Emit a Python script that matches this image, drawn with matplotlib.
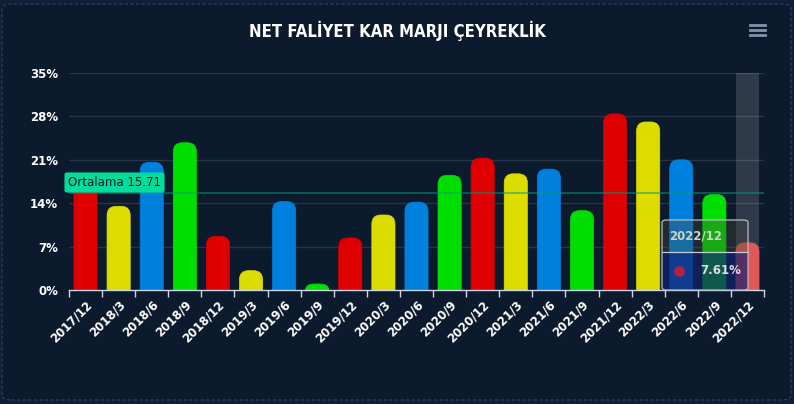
import matplotlib
matplotlib.use("Agg")
import matplotlib.pyplot as plt
from matplotlib.path import Path
from matplotlib.patches import PathPatch, FancyBboxPatch, Rectangle
from matplotlib.lines import Line2D

categories = ["2017/12", "2018/3", "2018/6", "2018/9", "2018/12", "2019/3", "2019/6",
              "2019/9", "2019/12", "2020/3", "2020/6", "2020/9", "2020/12", "2021/3",
              "2021/6", "2021/9", "2021/12", "2022/3", "2022/6", "2022/9", "2022/12"]
values = [17.6, 13.5, 20.6, 23.75, 8.67, 3.12, 14.27, 0.97, 8.4, 12.1, 14.17, 18.5,
          21.27, 18.74, 19.5, 12.8, 28.4, 27.1, 21.0, 15.4, 7.61]
average = 15.71
quarter_colors = {"12": "#de0000", "3": "#dcdc00", "6": "#0080dd", "9": "#00dd00"}
yticks = [0, 7, 14, 21, 28, 35]
hover_index = 20

W, H = 794, 404
BG = "#0c1a2d"
fig = plt.figure(figsize=(W / 100, H / 100), dpi=100, facecolor="#0f1f38")

# outer dashed rounded frame
frame = FancyBboxPatch((2 / W, 4 / H), (W - 5) / W, (H - 8) / H,
                       boxstyle="round,pad=0,rounding_size=0.012",
                       transform=fig.transFigure, facecolor=BG,
                       edgecolor="#34455f", linewidth=0.8, linestyle=(0, (3, 2)),
                       zorder=-10)
fig.patches.append(frame)

ax_l, ax_r, ax_b, ax_t = 69, 764, 290, 73
ax = fig.add_axes([ax_l / W, 1 - ax_b / H, (ax_r - ax_l) / W, (ax_b - ax_t) / H])
ax.set_facecolor("none")
n = len(categories)
ax.set_xlim(-0.5, n - 0.5)
ax.set_ylim(0, 35)

xpp = n / (ax_r - ax_l)
ypp = 35 / (ax_b - ax_t)

# hover band
ax.add_patch(Rectangle((hover_index - 0.36, 0), 0.72, 35, facecolor="#ffffff",
                       alpha=0.14, edgecolor="none", zorder=1))

for y in yticks[1:]:
    ax.axhline(y, color="#ffffff", alpha=0.12, linewidth=1, zorder=0.5)

bw = 0.70
for i, (c, v) in enumerate(zip(categories, values)):
    col = quarter_colors[c.split("/")[1]]
    if i == hover_index:
        col = "#e05858"
    x0, x1 = i - bw / 2, i + bw / 2
    rx = 9 * xpp
    ry = min(9 * ypp, v)
    verts = [(x0, 0), (x0, v - ry), (x0, v), (x0 + rx, v), (x1 - rx, v),
             (x1, v), (x1, v - ry), (x1, 0), (x0, 0)]
    codes = [Path.MOVETO, Path.LINETO, Path.CURVE3, Path.CURVE3, Path.LINETO,
             Path.CURVE3, Path.CURVE3, Path.LINETO, Path.CLOSEPOLY]
    ax.add_patch(PathPatch(Path(verts, codes), facecolor=col, edgecolor=col,
                           linewidth=0.5, zorder=2))

# average line + label
ax.axhline(average, color="#00997a", alpha=0.6, linewidth=1.2, zorder=3)
fig.text(68 / W, 1 - 182.5 / H, f"Ortalama {average:.2f}", fontsize=8.5,
         color="#0b1a2b", va="center", ha="left", zorder=10,
         bbox=dict(boxstyle="round,pad=0.3,rounding_size=0.2", facecolor="#00dd9a",
                   edgecolor="none"))

ax.set_yticks(yticks)
ax.set_yticklabels([f"{t}%" for t in yticks], color="white", fontsize=8.5,
                   fontweight="bold")
ax.set_xticks(range(n))
ax.set_xticklabels(categories, rotation=45, ha="right", rotation_mode="anchor",
                   color="white", fontsize=8.5, fontweight="bold")
ax.tick_params(axis="x", which="major", length=0, pad=6)
ax.tick_params(axis="y", length=0, pad=8)
ax.set_xticks([i - 0.5 for i in range(n + 1)], minor=True)
ax.tick_params(axis="x", which="minor", length=5, color="#ccd6eb", width=1)
for s in ["top", "right", "left"]:
    ax.spines[s].set_visible(False)
ax.spines["bottom"].set_color("#ccd6eb")
ax.spines["bottom"].set_linewidth(1)

# title
fig.text(0.5, 1 - 31 / H, "NET FALİYET KAR MARJI ÇEYREKLİK",
         family="DejaVu Sans", fontstretch="condensed", fontweight="bold",
         fontsize=12, color="white", ha="center", va="center")

# hamburger menu
for yy in (25, 30, 35):
    fig.add_artist(Line2D([750 / W, 765 / W], [1 - yy / H, 1 - yy / H],
                          color="#8593a8", linewidth=2, transform=fig.transFigure))

# tooltip
tx0, tx1, ty0, ty1, tdiv = 662, 748, 220, 290, 252
fig.patches.append(FancyBboxPatch((tx0 / W, 1 - tdiv / H), (tx1 - tx0) / W, (tdiv - ty0) / H,
                                  boxstyle="square,pad=0", transform=fig.transFigure,
                                  facecolor="#4a4a3a", alpha=0.35, edgecolor="none", zorder=8))
fig.patches.append(FancyBboxPatch((tx0 / W, 1 - ty1 / H), (tx1 - tx0) / W, (ty1 - tdiv) / H,
                                  boxstyle="square,pad=0", transform=fig.transFigure,
                                  facecolor="#15206e", alpha=0.7, edgecolor="none", zorder=8))
fig.patches.append(FancyBboxPatch((tx0 / W, 1 - ty1 / H), (tx1 - tx0) / W, (ty1 - ty0) / H,
                                  boxstyle="round,pad=0,rounding_size=0.006",
                                  transform=fig.transFigure, facecolor="none",
                                  edgecolor="#b8bcc4", linewidth=0.9, zorder=9))
fig.add_artist(Line2D([tx0 / W, tx1 / W], [1 - tdiv / H, 1 - tdiv / H], color="#c8ccd4",
                      linewidth=0.9, transform=fig.transFigure, zorder=9))
fig.text(669 / W, 1 - 236 / H, categories[hover_index], color="#c9d3c6", fontsize=8.5,
         fontweight="bold", va="center", ha="left", zorder=10)
fig.add_artist(Line2D([679 / W], [1 - 270.5 / H], marker="o", markersize=8,
                      markerfacecolor="#a8234a", markeredgecolor="none",
                      transform=fig.transFigure, zorder=10))
fig.text(700 / W, 1 - 271 / H, f"{values[hover_index]:.2f}%", color="#dcdcdc", fontsize=8.5,
         fontweight="bold", va="center", ha="left", zorder=10)

fig.savefig("out.png", dpi=100, facecolor=fig.get_facecolor())
